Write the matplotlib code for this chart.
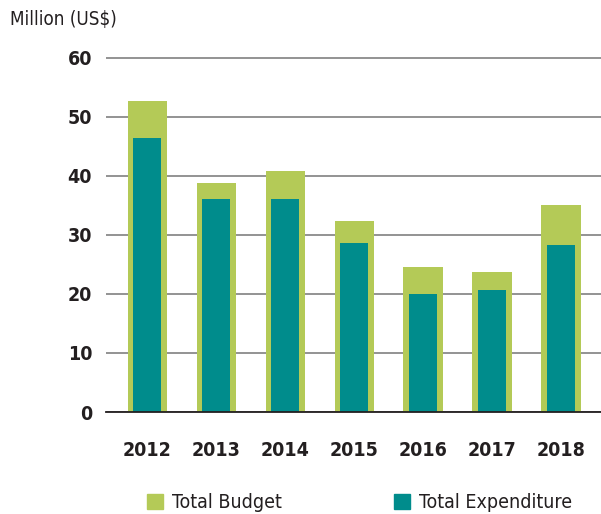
"""Budget vs expenditure by year, overlapping bars."""
import matplotlib; matplotlib.use('Agg')  # noqa: E702
import matplotlib.pyplot as plt
from matplotlib.patches import Patch

years = ['2012', '2013', '2014', '2015', '2016', '2017', '2018']
total_budget = [52.7, 38.8, 40.8, 32.4, 24.6, 23.7, 35.1]
total_expenditure = [46.4, 36.1, 36.1, 28.6, 20.0, 20.7, 28.3]
yticks = [0, 10, 20, 30, 40, 50, 60]

GREEN = '#b4ca57'
TEAL = '#008c8c'
INK = '#231f20'

plt.rcParams['font.family'] = ['DejaVu Sans']
plt.rcParams['font.stretch'] = 'condensed'

W, H = 601, 514
fig = plt.figure(figsize=(W / 100, H / 100), dpi=100)
ax = fig.add_axes([106 / W, (H - 412) / H, 1 - 106 / W, (412 - 55) / H])

x = range(len(years))
ax.bar(x, total_budget, width=0.57, color=GREEN, zorder=2)
ax.bar(x, total_expenditure, width=0.41, color=TEAL, zorder=3)

ax.set_xlim(-0.6, 6.58)
ax.set_ylim(0, 60.5)
ax.set_yticks(yticks)
ax.yaxis.grid(True, color='#8a8a8a', linewidth=1.3, zorder=0)
ax.set_axisbelow(True)
for s in ['top', 'right', 'left']:
    ax.spines[s].set_visible(False)
ax.spines['bottom'].set_color(INK)
ax.spines['bottom'].set_linewidth(1.3)
ax.spines['bottom'].set_zorder(4)
ax.tick_params(length=0, colors=INK)
ax.set_xticks(list(x))
ax.set_xticklabels(years, fontsize=14, fontweight='bold', color=INK)
ax.tick_params(axis='x', pad=21)
ax.tick_params(axis='y', pad=10)
for t in ax.get_yticklabels():
    t.set_fontsize(14)
    t.set_fontweight('bold')

fig.text(10 / W, 1 - 20 / H, 'Million (US$)', fontsize=13.5, color=INK, va='center', ha='left')

legend_kw = dict(frameon=False, fontsize=14, handlelength=0.8, handleheight=0.8,
                 handletextpad=0.5, borderpad=0, borderaxespad=0, labelcolor=INK, loc='center left')
fig.legend(handles=[Patch(color=GREEN, label='Total Budget')],
           bbox_to_anchor=(147 / W, 1 - 503 / H), **legend_kw)
fig.legend(handles=[Patch(color=TEAL, label='Total Expenditure')],
           bbox_to_anchor=(394 / W, 1 - 503 / H), **legend_kw)

fig.savefig('out.png', dpi=100)
